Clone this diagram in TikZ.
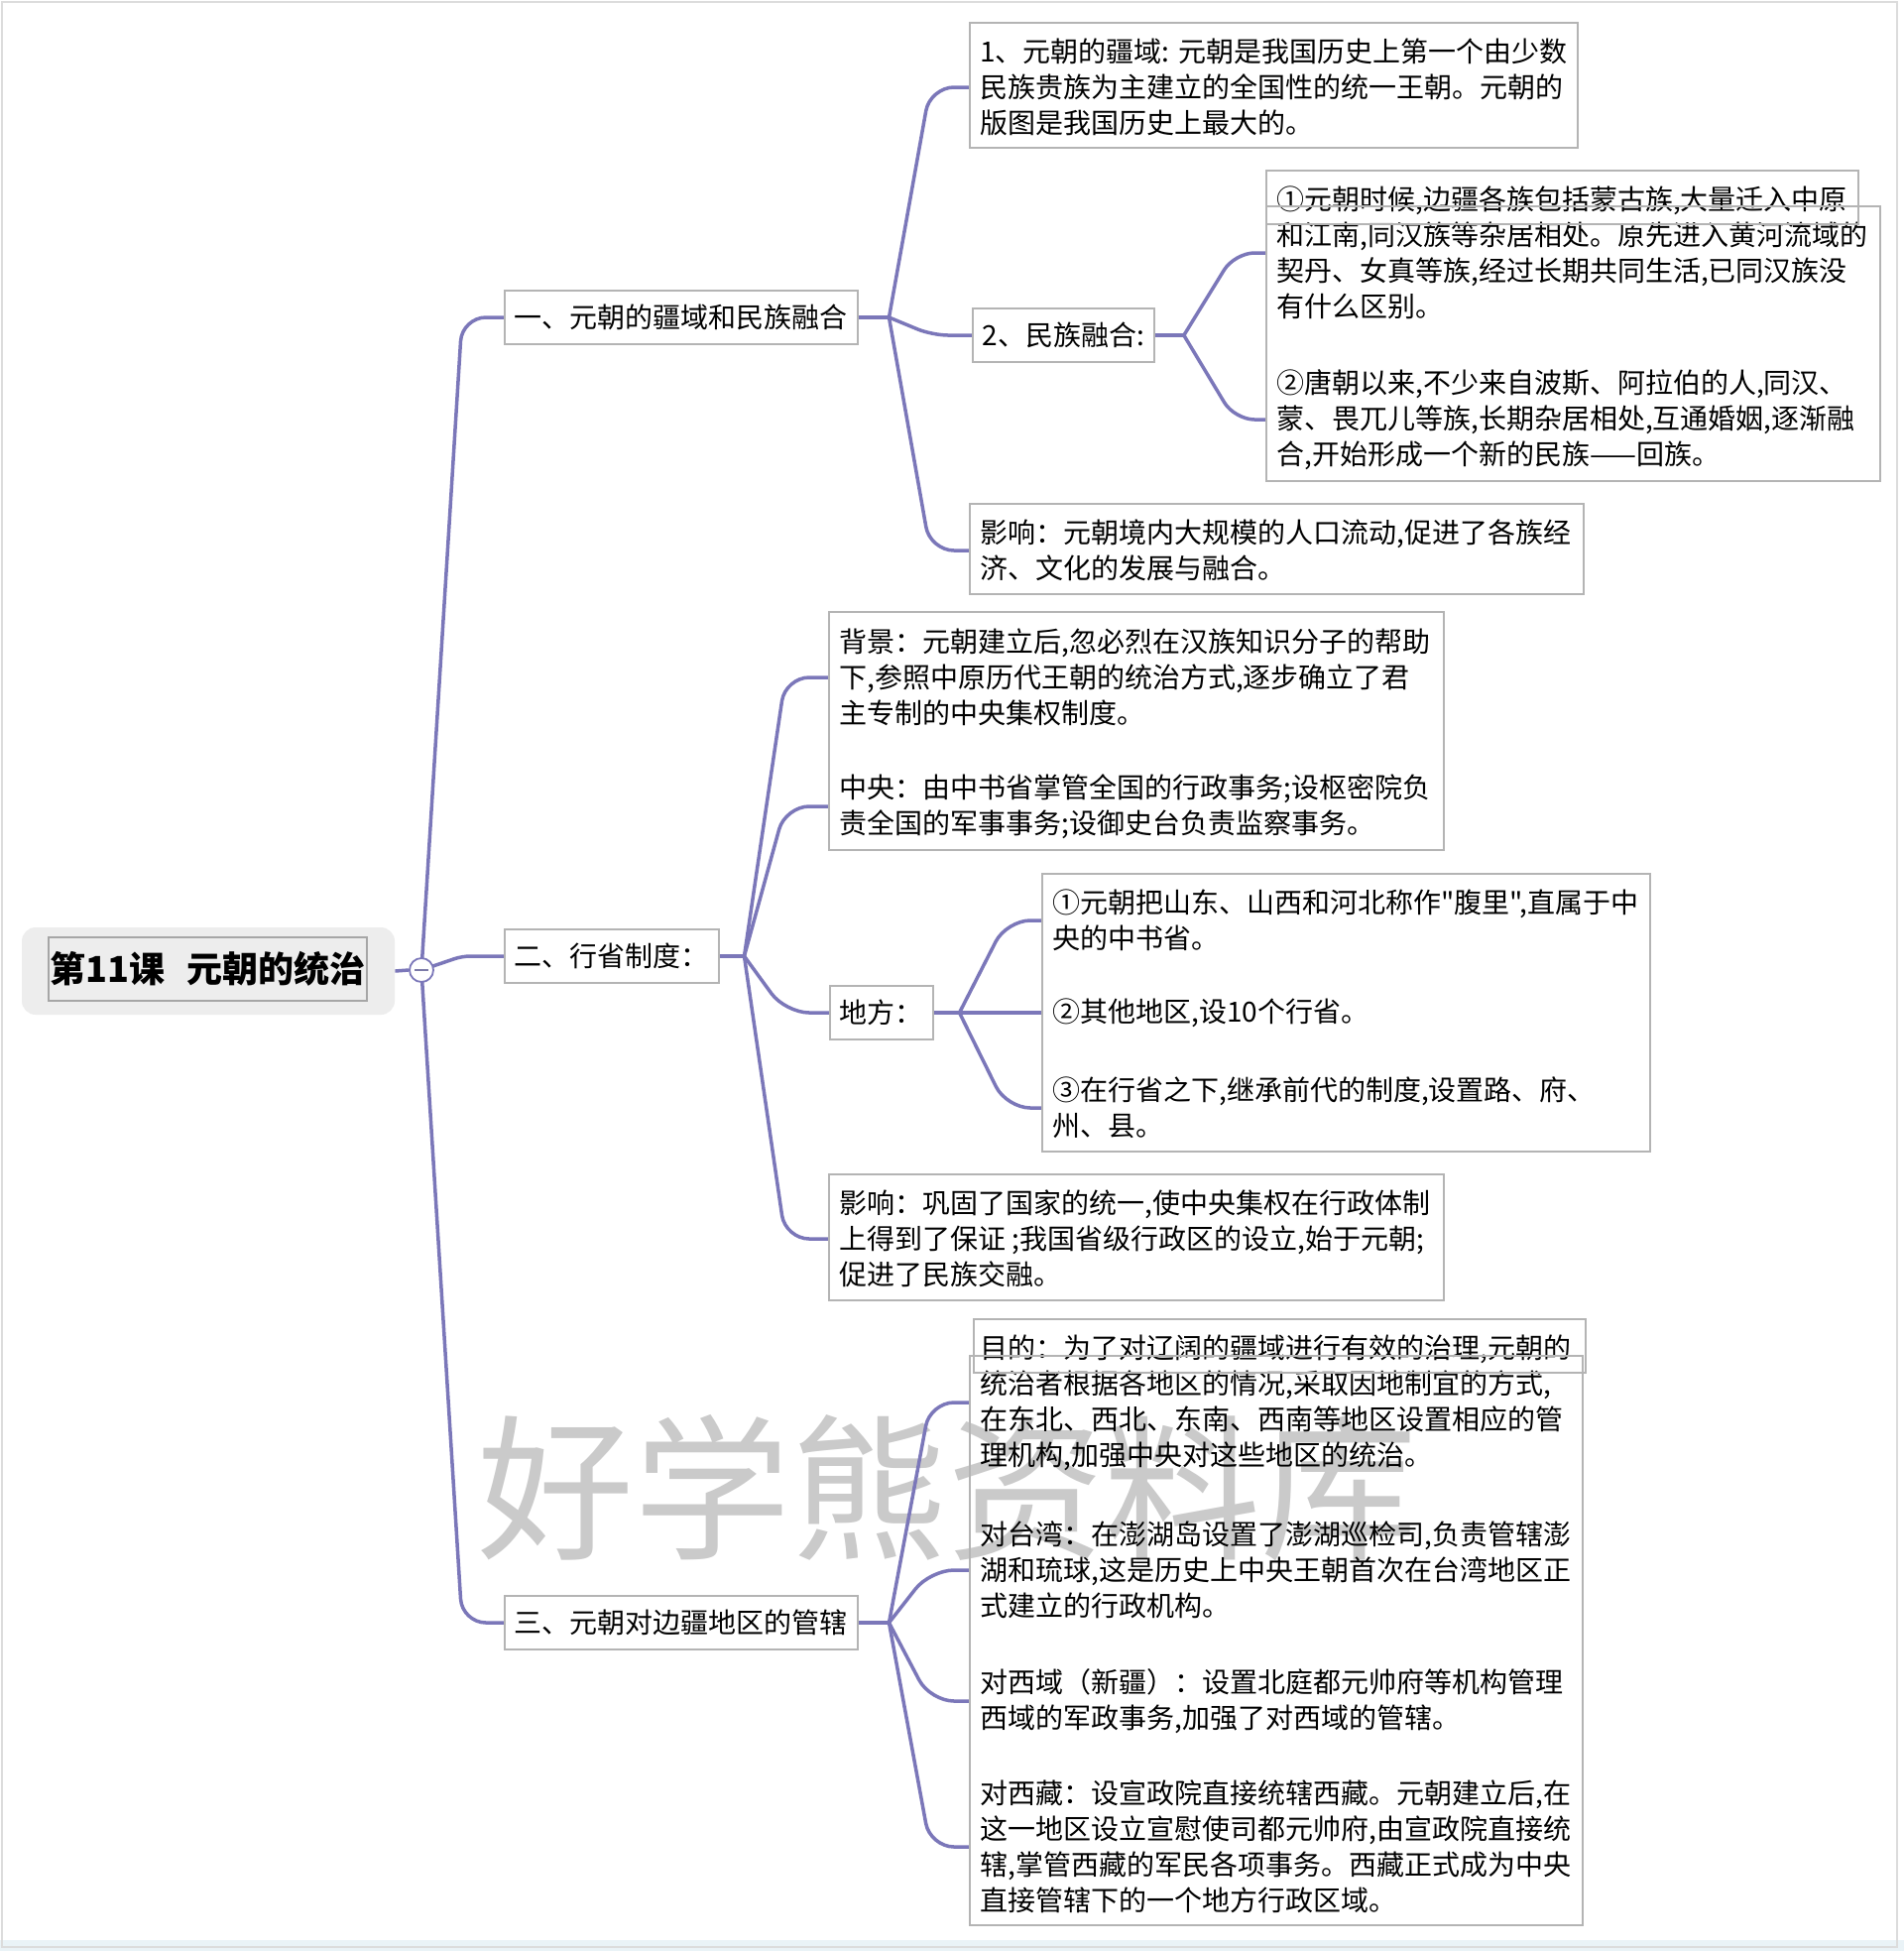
\documentclass[tikz,border=0pt]{standalone}
\usepackage{fontspec}
\newfontfamily\zh{Noto Sans CJK SC}
\usetikzlibrary{calc}
\pgfdeclarelayer{back}
\pgfsetlayers{back,main}
\definecolor{branch}{HTML}{7B77B9}
\definecolor{boxline}{HTML}{B4B4B4}
\definecolor{rootfill}{HTML}{EDEDED}
\definecolor{rootline}{HTML}{A6A6A6}
\definecolor{wmark}{HTML}{CACACA}
\definecolor{framec}{HTML}{DCDCDC}
\definecolor{frameb}{HTML}{EAF3F7}
\tikzset{
  topic/.style={draw=boxline, line width=0.75pt, inner xsep=5pt, inner ysep=0pt,
    minimum height=27pt, anchor=west, font=\zh\fontsize{14pt}{18pt}\selectfont},
  para/.style={inner xsep=5pt, inner ysep=0pt, anchor=west, align=left,
    font=\zh\fontsize{14pt}{18pt}\selectfont},
  conn/.style={draw=branch, line width=1.75pt, rounded corners=12pt},
  frame/.style={draw=boxline, line width=0.75pt},
}
\begin{document}
\begin{tikzpicture}[x=0.5pt, y=-0.5pt]
\useasboundingbox (0,0) rectangle (1920,1967);

% root
\node[fill=rootfill, rounded corners=7pt, minimum width=188pt, minimum height=44pt, inner sep=0] (rootbg) at (210,979) {};
\node[draw=rootline, line width=0.75pt, minimum width=160.5pt, minimum height=32pt, inner sep=0,
  font=\zh\fontsize{18pt}{18pt}\selectfont\bfseries] (root) at (209.5,977) {第11课\hspace{0.6em}元朝的统治};
\node[circle, draw=branch, fill=white, line width=0.9pt, minimum size=12pt, inner sep=0] (cc) at (425,978) {};
\draw[branch!70!gray, line width=1pt] ([xshift=-3.5pt]cc.center) -- ([xshift=3.5pt]cc.center);

% level 1
\node[topic] (t1) at (508,320) {一、元朝的疆域和民族融合};
\node[topic] (t2) at (508,964) {二、行省制度：};
\node[topic] (t3) at (508,1636) {三、元朝对边疆地区的管辖};
\coordinate (f1) at ([xshift=15.5pt]t1.east);
\coordinate (f2) at ([xshift=12.5pt]t2.east);
\coordinate (f3) at ([xshift=15.5pt]t3.east);

% branch 1
\node[para] (a1) at (978,88) {1、元朝的疆域: 元朝是我国历史上第一个由少数\\民族贵族为主建立的全国性的统一王朝。元朝的\\版图是我国历史上最大的。};
\draw[frame] (978,23) rectangle (1591,149);
\node[topic] (a2) at (980,338) {2、民族融合:};
\node[para] (a3) at (978,555) {影响：元朝境内大规模的人口流动,促进了各族经\\济、文化的发展与融合。};
\draw[frame] (978,508) rectangle (1597,599);
\coordinate (f12) at ([xshift=14.5pt]a2.east);
\node[para] (b1) at (1277,255) {①元朝时候,边疆各族包括蒙古族,大量迁入中原\\和江南,同汉族等杂居相处。原先进入黄河流域的\\契丹、女真等族,经过长期共同生活,已同汉族没\\有什么区别。};
\node[para] (b2) at (1277,423) {②唐朝以来,不少来自波斯、阿拉伯的人,同汉、\\蒙、畏兀儿等族,长期杂居相处,互通婚姻,逐渐融\\合,开始形成一个新的民族——回族。};
\draw[frame] (1277,172) rectangle (1874,226);
\draw[frame] (1277,208) rectangle (1896,485);

% branch 2
\node[para] (c1) at (836,683) {背景：元朝建立后,忽必烈在汉族知识分子的帮助\\下,参照中原历代王朝的统治方式,逐步确立了君\\主专制的中央集权制度。};
\node[para] (c2) at (836,813) {中央：由中书省掌管全国的行政事务;设枢密院负\\责全国的军事事务;设御史台负责监察事务。};
\draw[frame] (836,617) rectangle (1456,857);
\node[topic] (c3) at (836,1021) {地方：};
\node[para] (c4) at (836,1249) {影响：巩固了国家的统一,使中央集权在行政体制\\上得到了保证 ;我国省级行政区的设立,始于元朝;\\促进了民族交融。};
\draw[frame] (836,1184) rectangle (1456,1311);
\coordinate (f22) at ([xshift=13pt]c3.east);
\node[para] (d1) at (1051,928) {①元朝把山东、山西和河北称作"腹里",直属于中\\央的中书省。};
\node[para] (d2) at (1051,1021) {②其他地区,设10个行省。};
\node[para] (d3) at (1051,1117) {③在行省之下,继承前代的制度,设置路、府、\\州、县。};
\draw[frame] (1051,881) rectangle (1664,1161);

% branch 3
\node[para] (e1) at (978,1414) {目的：为了对辽阔的疆域进行有效的治理,元朝的\\统治者根据各地区的情况,采取因地制宜的方式,\\在东北、西北、东南、西南等地区设置相应的管\\理机构,加强中央对这些地区的统治。};
\node[para] (e2) at (978,1583) {对台湾：在澎湖岛设置了澎湖巡检司,负责管辖澎\\湖和琉球,这是历史上中央王朝首次在台湾地区正\\式建立的行政机构。};
\node[para] (e3) at (978,1715) {对西域（新疆）：设置北庭都元帅府等机构管理\\西域的军政事务,加强了对西域的管辖。};
\node[para] (e4) at (978,1862) {对西藏：设宣政院直接统辖西藏。元朝建立后,在\\这一地区设立宣慰使司都元帅府,由宣政院直接统\\辖,掌管西藏的军民各项事务。西藏正式成为中央\\直接管辖下的一个地方行政区域。};
\draw[frame] (982,1330) rectangle (1599,1384);
\draw[frame] (978,1367) rectangle (1596,1941);

\begin{pgfonlayer}{back}
  \fill[white] (0,0) rectangle (1920,1967);
  \fill[frameb] (0,1956) rectangle (1920,1967);
  \draw[framec, line width=1pt] (1.5,1.5) -- (1913,1.5) -- (1913,1963) -- (1.5,1963) -- cycle;
  \node[text=wmark, font=\zh\fontsize{79pt}{79pt}\selectfont, inner sep=0] (wm) at (955,1500) {好学熊资料库};

  \draw[conn] (rootbg.east) -- (cc.west);
  \draw[conn] (cc.center) -- ([xshift=-21pt]t1.west) -- (t1.west);
  \draw[conn, rounded corners=4pt] (cc.center) -- ([xshift=-21pt]t2.west) -- (t2.west);
  \draw[conn] (cc.center) -- ([xshift=-21pt]t3.west) -- (t3.west);

  \draw[conn] (t1.east) -- (f1);
  \draw[conn] (f1) -- ([xshift=-20pt]a1.west) -- (a1.west);
  \draw[conn, rounded corners=8pt] (f1) -- ([xshift=-20pt]a2.west) -- (a2.west);
  \draw[conn] (f1) -- ([xshift=-20pt]a3.west) -- (a3.west);
  \draw[conn] (a2.east) -- (f12);
  \draw[conn, rounded corners=10pt] (f12) -- ([xshift=-16pt]b1.west) -- (b1.west);
  \draw[conn, rounded corners=10pt] (f12) -- ([xshift=-16pt]b2.west) -- (b2.west);

  \draw[conn] (t2.east) -- (f2);
  \draw[conn] (f2) -- ([xshift=-22pt]c1.west) -- (c1.west);
  \draw[conn] (f2) -- ([xshift=-22pt]c2.west) -- (c2.west);
  \draw[conn] (f2) -- ([xshift=-22pt]c3.west) -- (c3.west);
  \draw[conn] (f2) -- ([xshift=-22pt]c4.west) -- (c4.west);
  \draw[conn] (c3.east) -- (f22);
  \draw[conn] (f22) -- ([xshift=-18pt]d1.west) -- (d1.west);
  \draw[conn] (f22) -- (d2.west);
  \draw[conn] (f22) -- ([xshift=-18pt]d3.west) -- (d3.west);

  \draw[conn] (t3.east) -- (f3);
  \draw[conn] (f3) -- ([xshift=-20pt]e1.west) -- (e1.west);
  \draw[conn] (f3) -- ([xshift=-20pt]e2.west) -- (e2.west);
  \draw[conn] (f3) -- ([xshift=-20pt]e3.west) -- (e3.west);
  \draw[conn] (f3) -- ([xshift=-20pt]e4.west) -- (e4.west);
\end{pgfonlayer}
\end{tikzpicture}
\end{document}
